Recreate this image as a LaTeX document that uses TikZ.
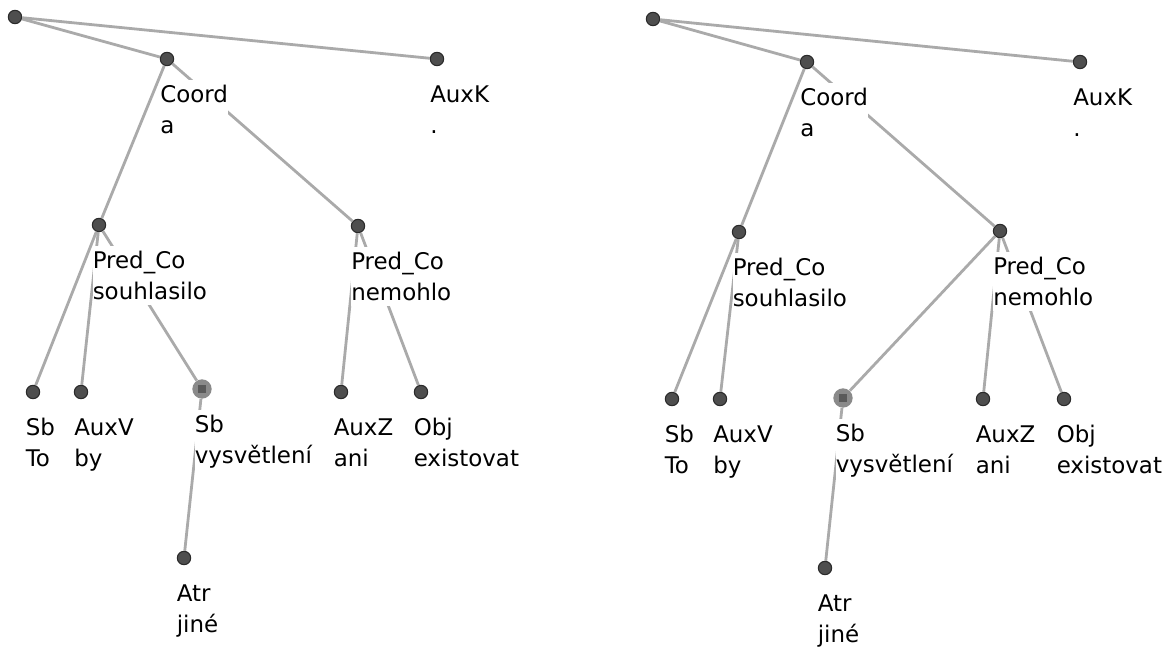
\documentclass[tikz,border=0pt]{standalone}
\usepackage{fontspec}
\setmainfont{DejaVu Sans}
\usetikzlibrary{calc}
\definecolor{edgegray}{HTML}{AAAAAA}
\definecolor{dotfill}{HTML}{4E4E4E}
\definecolor{dotline}{HTML}{2A2A2A}
\definecolor{hifill}{HTML}{8A8A8A}
\definecolor{hicore}{HTML}{5A5A5A}
\tikzset{
  dot/.style={circle, fill=dotfill, draw=dotline, line width=0.8pt, minimum size=10pt, inner sep=0pt},
  hidot/.style={circle, fill=hifill, minimum size=14.5pt, inner sep=0pt,
    path picture={\fill[hicore] ([shift={(-2.7pt,-2.7pt)}]path picture bounding box.center) rectangle ++(5.4pt,5.4pt);}},
  edge/.style={draw=edgegray, line width=2.1pt},
  lab/.style={anchor=north west, fill=white, inner sep=0pt, align=left,
    font=\fontsize{17.2pt}{23.25pt}\selectfont},
}
\newcommand{\twoline}[2]{\rule{0pt}{16.5pt}#1\\#2\rule[-4.5pt]{0pt}{4.5pt}}
\begin{document}
\begin{tikzpicture}[x=0.75pt, y=-0.75pt]
\useasboundingbox (0,0) rectangle (1168,648);
% ---------- left tree: dots ----------
\node[dot] (Lroot) at (15,17) {};
\node[dot] (Lcoord) at (167,59) {};
\node[dot] (Lauxk) at (437,59) {};
\node[dot] (Lpred1) at (99,225) {};
\node[dot] (Lpred2) at (358,226) {};
\node[dot] (Lsb) at (33,392) {};
\node[dot] (Lauxv) at (81,392) {};
\node[hidot] (Lsbv) at (202,389) {};
\node[dot] (Lauxz) at (341,392) {};
\node[dot] (Lobj) at (421,392) {};
\node[dot] (Latr) at (184,558) {};
% ---------- left tree: edges ----------
\draw[edge] (Lroot) -- (Lcoord);
\draw[edge] (Lroot) -- (Lauxk);
\draw[edge] (Lcoord) -- (Lpred1);
\draw[edge] (Lcoord) -- (Lpred2);
\draw[edge] (Lpred1) -- (Lsb);
\draw[edge] (Lpred1) -- (Lauxv);
\draw[edge] (Lpred1) -- (Lsbv);
\draw[edge] (Lpred2) -- (Lauxz);
\draw[edge] (Lpred2) -- (Lobj);
\draw[edge] (Lsbv) -- (Latr);
% ---------- left tree: labels ----------
\node[lab] (tLcoord) at ($(Lcoord)+(-7,21)$) {\twoline{Coord}{a}};
\node[lab] (tLauxk) at ($(Lauxk)+(-7,21)$) {\twoline{AuxK}{.}};
\node[lab] (tLpred1) at ($(Lpred1)+(-6.5,21)$) {\twoline{Pred\_Co}{souhlasilo}};
\node[lab] (tLpred2) at ($(Lpred2)+(-7,21)$) {\twoline{Pred\_Co}{nemohlo}};
\node[lab] (tLsb) at ($(Lsb)+(-7.5,21)$) {\twoline{Sb}{To}};
\node[lab] (tLauxv) at ($(Lauxv)+(-7,21)$) {\twoline{AuxV}{by}};
\node[lab] (tLsbv) at ($(Lsbv)+(-7.5,21)$) {\twoline{Sb}{vysvětlení}};
\node[lab] (tLauxz) at ($(Lauxz)+(-7.5,21)$) {\twoline{AuxZ}{ani}};
\node[lab] (tLobj) at ($(Lobj)+(-7.5,21)$) {\twoline{Obj}{existovat}};
\node[lab] (tLatr) at ($(Latr)+(-7.5,21)$) {\twoline{Atr}{jiné}};
% ---------- right tree: dots ----------
\node[dot] (Rroot) at (653,19) {};
\node[dot] (Rcoord) at (807,62) {};
\node[dot] (Rauxk) at (1080,62) {};
\node[dot] (Rpred1) at (739,232) {};
\node[dot] (Rpred2) at (1000,231) {};
\node[dot] (Rsb) at (672,399) {};
\node[dot] (Rauxv) at (720,399) {};
\node[hidot] (Rsbv) at (843,398) {};
\node[dot] (Rauxz) at (983,399) {};
\node[dot] (Robj) at (1064,399) {};
\node[dot] (Ratr) at (825,568) {};
% ---------- right tree: edges ----------
\draw[edge] (Rroot) -- (Rcoord);
\draw[edge] (Rroot) -- (Rauxk);
\draw[edge] (Rcoord) -- (Rpred1);
\draw[edge] (Rcoord) -- (Rpred2);
\draw[edge] (Rpred1) -- (Rsb);
\draw[edge] (Rpred1) -- (Rauxv);
\draw[edge] (Rpred2) -- (Rsbv);
\draw[edge] (Rpred2) -- (Rauxz);
\draw[edge] (Rpred2) -- (Robj);
\draw[edge] (Rsbv) -- (Ratr);
% ---------- right tree: labels ----------
\node[lab] (tRcoord) at ($(Rcoord)+(-7,21)$) {\twoline{Coord}{a}};
\node[lab] (tRauxk) at ($(Rauxk)+(-7,21)$) {\twoline{AuxK}{.}};
\node[lab] (tRpred1) at ($(Rpred1)+(-6.5,21)$) {\twoline{Pred\_Co}{souhlasilo}};
\node[lab] (tRpred2) at ($(Rpred2)+(-7,21)$) {\twoline{Pred\_Co}{nemohlo}};
\node[lab] (tRsb) at ($(Rsb)+(-7.5,21)$) {\twoline{Sb}{To}};
\node[lab] (tRauxv) at ($(Rauxv)+(-7,21)$) {\twoline{AuxV}{by}};
\node[lab] (tRsbv) at ($(Rsbv)+(-7.5,21)$) {\twoline{Sb}{vysvětlení}};
\node[lab] (tRauxz) at ($(Rauxz)+(-7.5,21)$) {\twoline{AuxZ}{ani}};
\node[lab] (tRobj) at ($(Robj)+(-7.5,21)$) {\twoline{Obj}{existovat}};
\node[lab] (tRatr) at ($(Ratr)+(-7.5,21)$) {\twoline{Atr}{jiné}};
\end{tikzpicture}
\end{document}
